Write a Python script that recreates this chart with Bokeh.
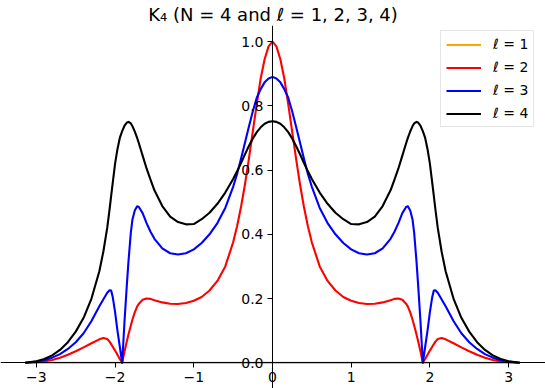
from bokeh.plotting import figure
from bokeh.models import Range1d, FixedTicker, Legend, LegendItem, CustomJSTickFormatter, PrintfTickFormatter
from bokeh.embed import file_html
from bokeh.resources import INLINE

# half curves (x >= 0); the curves are symmetric about x = 0
x_half = [0.0, 0.05, 0.1, 0.15, 0.2, 0.25, 0.3, 0.35, 0.4, 0.45,
          0.5, 0.6, 0.7, 0.8, 0.9, 1.0, 1.1, 1.2, 1.3, 1.4,
          1.5, 1.55, 1.6, 1.65, 1.7, 1.72, 1.75, 1.78, 1.8, 1.83,
          1.85, 1.88, 1.91, 1.94, 1.97, 2.0, 2.03, 2.05, 2.07, 2.1,
          2.15, 2.2, 2.3, 2.4, 2.5, 2.6, 2.7, 2.8, 2.9, 3.0,
          3.1, 3.1416]

l2_half = [1.000, 0.985, 0.945, 0.885, 0.805, 0.720, 0.635, 0.555, 0.485, 0.425,
           0.375, 0.300, 0.255, 0.225, 0.205, 0.193, 0.186, 0.183, 0.184, 0.188,
           0.195, 0.199, 0.200, 0.196, 0.183, 0.175, 0.157, 0.134, 0.116, 0.088,
           0.068, 0.036, 0.000, 0.012, 0.025, 0.038, 0.050, 0.058, 0.066, 0.074,
           0.077, 0.073, 0.061, 0.048, 0.036, 0.025, 0.016, 0.009, 0.004, 0.002,
           0.0005, 0.0]

l3_half = [0.890, 0.885, 0.873, 0.852, 0.825, 0.783, 0.735, 0.685, 0.635, 0.588,
           0.548, 0.482, 0.435, 0.400, 0.373, 0.353, 0.341, 0.337, 0.341, 0.356,
           0.386, 0.408, 0.435, 0.466, 0.486, 0.487, 0.474, 0.445, 0.405, 0.315,
           0.245, 0.130, 0.000, 0.050, 0.100, 0.158, 0.205, 0.225, 0.226, 0.218,
           0.197, 0.176, 0.130, 0.092, 0.064, 0.043, 0.027, 0.016, 0.008, 0.004,
           0.001, 0.0]

l4_half = [0.752, 0.750, 0.744, 0.733, 0.718, 0.698, 0.675, 0.649, 0.622, 0.596,
           0.572, 0.530, 0.495, 0.467, 0.447, 0.432, 0.431, 0.438, 0.455, 0.488,
           0.537, 0.570, 0.605, 0.645, 0.685, 0.700, 0.720, 0.737, 0.745, 0.750,
           0.748, 0.738, 0.721, 0.700, 0.665, 0.620, 0.560, 0.520, 0.478, 0.420,
           0.345, 0.285, 0.200, 0.140, 0.097, 0.064, 0.040, 0.023, 0.012, 0.005,
           0.0015, 0.0]

l1_half = [0.0] * len(x_half)

x_ticks = [-3, -2, -1, 0, 1, 2, 3]
y_ticks = [0.0, 0.2, 0.4, 0.6, 0.8, 1.0]

series_labels = ["\u2113 = 1", "\u2113 = 2", "\u2113 = 3", "\u2113 = 4"]
series_colors = ["orange", "red", "blue", "black"]
title_text = "K\u2084 (N = 4 and \u2113 = 1, 2, 3, 4)"


def mirror(xs, ys):
    xm = [-v for v in reversed(xs[1:])] + list(xs)
    ym = list(reversed(ys[1:])) + list(ys)
    return xm, ym


FONT = "DejaVu Sans"

p = figure(width=545, height=388,
           x_range=Range1d(-3.456, 3.469), y_range=Range1d(-0.080, 1.05),
           output_backend="svg", toolbar_location=None,
           min_border_left=0, min_border_right=0, min_border_top=0, min_border_bottom=0)
p.title.text = title_text
p.title.align = "center"
p.title.text_font = FONT
p.title.text_font_size = "18px"
p.title.text_font_style = "normal"
p.title.text_color = "black"
p.title.standoff = 2
p.outline_line_color = None
p.grid.visible = False
p.background_fill_color = "white"
p.border_fill_color = "white"

items = []
for ys, lab, col in zip([l1_half, l2_half, l3_half, l4_half], series_labels, series_colors):
    xm, ym = mirror(x_half, ys)
    r = p.line(xm, ym, line_color=col, line_width=2.1, line_join="round")
    items.append(LegendItem(label=lab, renderers=[r]))

for ax in (p.xaxis[0], p.yaxis[0]):
    ax.fixed_location = 0
    ax.axis_line_color = "black"
    ax.axis_line_width = 1
    ax.major_tick_line_color = "black"
    ax.major_tick_line_width = 1
    ax.major_tick_in = 0
    ax.major_tick_out = 5
    ax.minor_tick_in = 0
    ax.minor_tick_out = 0
    ax.major_label_text_font = FONT
    ax.major_label_text_font_size = "14px"
    ax.major_label_text_color = "black"
    ax.major_label_standoff = 4

p.xaxis[0].ticker = FixedTicker(ticks=x_ticks)
p.xaxis[0].formatter = CustomJSTickFormatter(code="return tick.toFixed(0).replace('-', '\u2212')")
p.yaxis[0].ticker = FixedTicker(ticks=y_ticks)
p.yaxis[0].formatter = PrintfTickFormatter(format="%.1f")

legend = Legend(items=items, location=(440, 261))
legend.margin = 0
legend.padding = 5
legend.spacing = 7
legend.glyph_width = 35
legend.glyph_height = 15
legend.label_height = 15
legend.label_standoff = 12
legend.label_text_font = FONT
legend.label_text_font_size = "14px"
legend.label_text_color = "black"
legend.border_line_color = "#cccccc"
legend.border_line_width = 1
legend.background_fill_alpha = 0.8
p.add_layout(legend)

open("out.html", "w").write(file_html(p, INLINE))
